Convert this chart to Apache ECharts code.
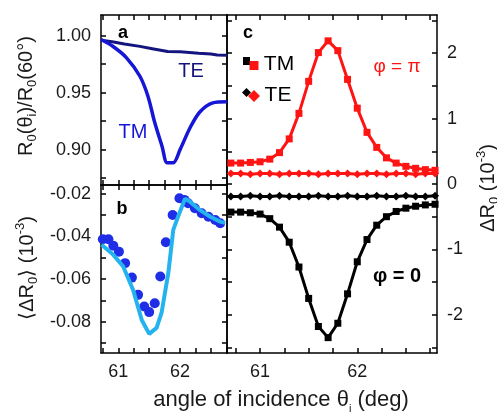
<!DOCTYPE html>
<html>
<head>
<meta charset="utf-8">
<script src="https://cdn.jsdelivr.net/npm/echarts@6/dist/echarts.min.js"></script>
<style>
  html, body { margin: 0; padding: 0; background: #fff; }
  #main { width: 497px; height: 414px; }
</style>
</head>
<body>
<div id="main"></div>
<script>
// panel a: R0(theta)/R0(60deg), [theta, value]
var aTE = [[60.72, 0.9958], [60.9, 0.9945], [61.1, 0.9925], [61.35, 0.9905], [61.55, 0.9885], [61.8, 0.986],
           [62.0, 0.9858], [62.3, 0.9845], [62.5, 0.9838], [62.6, 0.983], [62.76, 0.9828]];
var aTM = [[60.72, 0.9965], [60.91, 0.9906], [61.13, 0.9807], [61.35, 0.9643], [61.48, 0.9468], [61.59, 0.9237],
           [61.71, 0.9026], [61.79, 0.8886], [61.89, 0.8886], [62.0, 0.90], [62.16, 0.919], [62.32, 0.933],
           [62.53, 0.941], [62.76, 0.942]];

// panel b: <dR0> (1e-3), measured dots and fit line
var bDots = [[60.75, -0.0413], [60.84, -0.0413], [60.92, -0.0443], [61.01, -0.0471], [61.11, -0.0525],
             [61.22, -0.0593], [61.32, -0.0674], [61.42, -0.0729], [61.50, -0.0755], [61.59, -0.0713],
             [61.68, -0.0588], [61.77, -0.0427], [61.88, -0.0299], [61.99, -0.0220], [62.07, -0.0228],
             [62.13, -0.0244], [62.24, -0.0267], [62.35, -0.0291], [62.46, -0.0307], [62.57, -0.0322],
             [62.65, -0.0338]];
var bFit = [[60.73, -0.0439], [60.92, -0.0486], [61.08, -0.0541], [61.24, -0.0651], [61.38, -0.0792],
            [61.50, -0.0857], [61.62, -0.0829], [61.70, -0.0759], [61.81, -0.0571], [61.89, -0.0369],
            [61.99, -0.0289], [62.08, -0.0223], [62.16, -0.0236], [62.32, -0.0275], [62.49, -0.0307],
            [62.65, -0.0330], [62.73, -0.0336]];

// panel c: dR0 (1e-3)
var thetaC = [60.7, 60.8, 60.9, 61.0, 61.1, 61.2, 61.3, 61.4, 61.5, 61.6, 61.7,
              61.8, 61.9, 62.0, 62.1, 62.2, 62.3, 62.4, 62.5, 62.6, 62.7, 62.8];
var cTMpi = [0.32, 0.32, 0.33, 0.34, 0.38, 0.48, 0.69, 1.08, 1.57, 2.01, 2.19,
             2.04, 1.60, 1.16, 0.79, 0.56, 0.40, 0.32, 0.27, 0.24, 0.22, 0.21];
var cTEpi = [0.16, 0.16, 0.15, 0.16, 0.16, 0.15, 0.16, 0.16, 0.16, 0.15, 0.16,
             0.16, 0.16, 0.15, 0.16, 0.16, 0.15, 0.16, 0.16, 0.15, 0.16, 0.16];
var cTM0 = [-0.43, -0.43, -0.44, -0.46, -0.53, -0.66, -0.89, -1.27, -1.75, -2.18, -2.35,
            -2.13, -1.68, -1.19, -0.85, -0.63, -0.50, -0.42, -0.37, -0.34, -0.32, -0.31];
var cTE0 = [-0.19, -0.19, -0.18, -0.19, -0.19, -0.18, -0.19, -0.19, -0.19, -0.18, -0.19,
            -0.19, -0.18, -0.19, -0.19, -0.18, -0.19, -0.19, -0.18, -0.19, -0.19, -0.18];

// ticks
var xTicks = [60.75, 61, 61.25, 61.5, 61.75, 62, 62.25, 62.5, 62.75];
var xLabels = [61, 62];
var aYTicks = [0.875, 0.9, 0.925, 0.95, 0.975, 1.0];
var aYLabels = [0.9, 0.95, 1.0];
var bYTicks = [-0.09, -0.08, -0.07, -0.06, -0.05, -0.04, -0.03, -0.02];
var bYLabels = [-0.08, -0.06, -0.04, -0.02];
var cYTicks = [-2.5, -2, -1.5, -1, -0.5, 0, 0.5, 1, 1.5, 2, 2.5];
var cYLabels = [-2, -1, 0, 1, 2];

var font = 'Liberation Sans, Arial, sans-serif';
var frame = { color: '#000', width: 1.5 };
var red = '#ff1414';

function pair(xs, ys) {
    return xs.map(function (x, i) { return [x, ys[i]]; });
}

function axis(gi, pos, min, max, ticks, labels, fmt) {
    return {
        type: 'value', gridIndex: gi, position: pos, min: min, max: max,
        axisLine: { show: true, onZero: false, lineStyle: frame },
        axisTick: { show: true, inside: true, length: 5, customValues: ticks, lineStyle: frame },
        axisLabel: {
            show: !!labels, customValues: labels || [], margin: 10,
            fontSize: 18, color: '#1a1a1a', fontFamily: font,
            formatter: fmt || function (v) { return String(v); }
        },
        splitLine: { show: false }
    };
}

function fix2(v) { return v.toFixed(2); }

function txt(x, y, text, font_, color) {
    return {
        type: 'text', x: x, y: y, z: 10,
        style: { text: text, fill: color || '#000', font: font_ + ' ' + font,
                 align: 'center', verticalAlign: 'middle' }
    };
}

var rich = {
    m: { fontSize: 20, lineHeight: 26, fontFamily: font, fill: '#1a1a1a' },
    s: { fontSize: 13, lineHeight: 13, verticalAlign: 'bottom', fontFamily: font, fill: '#1a1a1a' },
    u: { fontSize: 13, lineHeight: 13, verticalAlign: 'top', fontFamily: font, fill: '#1a1a1a' }
};

var chart = echarts.init(document.getElementById('main'));
chart.setOption({
    animation: false,
    textStyle: { fontFamily: font },
    grid: [
        { left: 101, top: 15, width: 126, height: 170 },
        { left: 101, top: 185, width: 126, height: 168 },
        { left: 227, top: 15, width: 210, height: 338 }
    ],
    xAxis: [
        axis(0, 'bottom', 60.72, 62.76, xTicks),
        axis(0, 'top', 60.72, 62.76, xTicks),
        axis(1, 'bottom', 60.72, 62.76, xTicks, xLabels),
        axis(1, 'top', 60.72, 62.76, xTicks),
        axis(2, 'bottom', 60.66, 62.82, xTicks, xLabels),
        axis(2, 'top', 60.66, 62.82, xTicks)
    ],
    yAxis: [
        axis(0, 'left', 0.869, 1.018, aYTicks, aYLabels, fix2),
        axis(0, 'right', 0.869, 1.018, aYTicks),
        axis(1, 'left', -0.0947, -0.0158, bYTicks, bYLabels, fix2),
        axis(1, 'right', -0.0947, -0.0158, bYTicks),
        axis(2, 'left', -2.585, 2.585, cYTicks),
        axis(2, 'right', -2.585, 2.585, cYTicks, cYLabels)
    ],
    series: [
        { type: 'line', xAxisIndex: 0, yAxisIndex: 0, data: aTE, showSymbol: false,
          lineStyle: { color: '#14147e', width: 3 } },
        { type: 'line', xAxisIndex: 0, yAxisIndex: 0, data: aTM, showSymbol: false, smooth: 0.3,
          lineStyle: { color: '#1616d6', width: 3.5 } },
        { type: 'scatter', xAxisIndex: 2, yAxisIndex: 2, data: bDots, symbolSize: 10,
          itemStyle: { color: '#1f2ee6', opacity: 1 } },
        { type: 'line', xAxisIndex: 2, yAxisIndex: 2, data: bFit, showSymbol: false,
          lineStyle: { color: '#25b3ef', width: 4 } },
        { type: 'line', xAxisIndex: 4, yAxisIndex: 4, data: pair(thetaC, cTE0), symbol: 'diamond',
          symbolSize: 8, color: '#000', lineStyle: { color: '#000', width: 3 } },
        { type: 'line', xAxisIndex: 4, yAxisIndex: 4, data: pair(thetaC, cTM0), symbol: 'rect',
          symbolSize: 7, color: '#000', lineStyle: { color: '#000', width: 3 } },
        { type: 'line', xAxisIndex: 4, yAxisIndex: 4, data: pair(thetaC, cTEpi), symbol: 'diamond',
          symbolSize: 8, color: red, lineStyle: { color: red, width: 3 } },
        { type: 'line', xAxisIndex: 4, yAxisIndex: 4, data: pair(thetaC, cTMpi), symbol: 'rect',
          symbolSize: 7, color: red, lineStyle: { color: red, width: 3 } }
    ],
    graphic: [
        // axis titles
        { type: 'text', x: 26, y: 96, rotation: Math.PI / 2, z: 10,
          style: { text: '{m|R}{s|0}{m|(θ}{s|i}{m|)/R}{s|0}{m|(60°)}', rich: rich, align: 'center', verticalAlign: 'middle' } },
        { type: 'text', x: 27, y: 268, rotation: Math.PI / 2, z: 10,
          style: { text: '{m|⟨ΔR}{s|0}{m|⟩ (10}{u|-3}{m|)}', rich: rich, align: 'center', verticalAlign: 'middle' } },
        { type: 'text', x: 488, y: 188, rotation: Math.PI / 2, z: 10,
          style: { text: '{m|ΔR}{s|0}{m| (10}{u|-3}{m|)}', rich: rich, align: 'center', verticalAlign: 'middle' } },
        { type: 'text', x: 281, y: 400, z: 10,
          style: { text: '{x|angle of incidence θ}{xs|i}{x| (deg)}', align: 'center', verticalAlign: 'middle',
                   rich: { x: { fontSize: 22, lineHeight: 28, fontFamily: font, fill: '#1a1a1a' },
                           xs: { fontSize: 11, lineHeight: 11, verticalAlign: 'bottom', fontFamily: font, fill: '#1a1a1a' } } } },
        // panel letters
        txt(123, 33, 'a', 'bold 18px'),
        txt(122, 209, 'b', 'bold 18px'),
        txt(248, 33, 'c', 'bold 18px'),
        // curve labels
        txt(191, 71, 'TE', '20px', '#14147e'),
        txt(133, 132, 'TM', '20px', '#1616d6'),
        txt(397, 67, 'φ = π', '19px', red),
        txt(397, 276, 'φ = 0', 'bold 20px', '#000'),
        // legend of panel c
        { type: 'rect', shape: { x: 243, y: 57, width: 7, height: 8 }, style: { fill: '#000' }, z: 10 },
        { type: 'rect', shape: { x: 249.5, y: 61, width: 9, height: 9 }, style: { fill: red }, z: 11 },
        txt(279, 64, 'TM', '21px', '#000'),
        { type: 'polygon', shape: { points: [[246.5, 88], [251, 92.5], [246.5, 97], [242, 92.5]] }, style: { fill: '#000' }, z: 10 },
        { type: 'polygon', shape: { points: [[254, 90], [260, 96], [254, 102], [248, 96]] }, style: { fill: red }, z: 11 },
        txt(278, 95, 'TE', '21px', '#000')
    ]
});
</script>
</body>
</html>
